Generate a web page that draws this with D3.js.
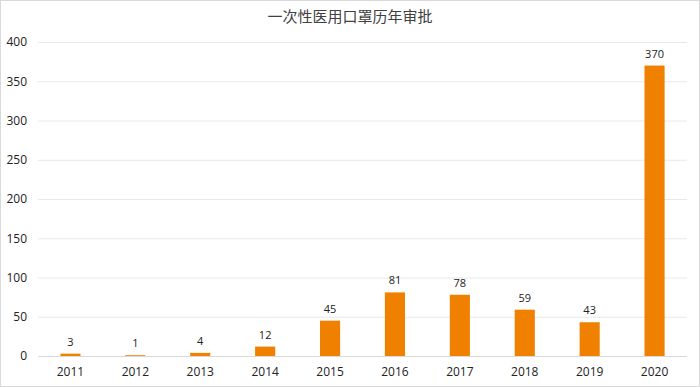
<!DOCTYPE html>
<html>
<head>
<meta charset="utf-8">
<script src="https://cdn.jsdelivr.net/npm/d3@7"></script>
<style>
  body { margin: 0; background: #fff; }
  text { font-family: "Open Sans", "Noto Sans", "Noto Sans CJK SC", sans-serif; }
</style>
</head>
<body>
<div id="c"></div>
<script>
"use strict";

const years = ["2011","2012","2013","2014","2015","2016","2017","2018","2019","2020"]
const approvals = [3, 1, 4, 12, 45, 81, 78, 59, 43, 370]
const yTicks = [0, 50, 100, 150, 200, 250, 300, 350, 400]
const title = "一次性医用口罩历年审批"

const W = 700, H = 387
const margin = { top: 42, right: 13, bottom: 31, left: 38 }
const width = W - margin.left - margin.right
const height = H - margin.top - margin.bottom

let mainSvg = d3.select('#c').append('svg')
    .attr('width', W).attr('height', H)

mainSvg.append('rect')
    .attr('x', 0.5).attr('y', 0.5)
    .attr('width', W - 1).attr('height', H - 1)
    .attr('fill', '#fff').attr('stroke', '#d9d9d9')

mainSvg.append('text')
    .attr('x', W / 2).attr('y', 22)
    .attr('text-anchor', 'middle')
    .style('font-family', '"Noto Sans CJK SC", sans-serif')
    .style('font-size', '15px')
    .attr('fill', '#404040')
    .text(title)

let svg = mainSvg.append('g')
    .attr('transform', "translate(" + margin.left + "," + margin.top + ")")

let xScale = d3.scaleBand().domain(years).range([0, width]).paddingInner(0.69).paddingOuter(0.345)
let yScale = d3.scaleLinear().domain([0, 400]).range([height, 0])

// gridlines
svg.append('g')
    .selectAll('line')
    .data(yTicks)
    .enter().append('line')
        .attr('x1', 0).attr('x2', width)
        .attr('y1', d => yScale(d) + 0.5).attr('y2', d => yScale(d) + 0.5)
        .attr('stroke', d => d === 0 ? '#d9d9d9' : '#e8e8e8')

let yAxis = svg.append('g')
    .call(d3.axisLeft(yScale).tickValues(yTicks).tickSize(0).tickPadding(11))
yAxis.select('.domain').remove()
yAxis.selectAll('text').style('font-size', '12px').attr('fill', '#222')

let xAxis = svg.append('g')
    .attr('transform', 'translate(0,' + height + ')')
    .call(d3.axisBottom(xScale).tickSize(0).tickPadding(11))
xAxis.select('.domain').remove()
xAxis.selectAll('text').style('font-size', '12px').attr('fill', '#222')

svg.append('g')
    .selectAll('rect')
    .data(approvals)
    .enter().append('rect')
        .attr('x', (d, i) => xScale(years[i]))
        .attr('y', d => yScale(d))
        .attr('width', xScale.bandwidth())
        .attr('height', d => height - yScale(d))
        .attr('fill', '#f08000')

svg.append('g')
    .selectAll('text')
    .data(approvals)
    .enter().append('text')
        .attr('x', (d, i) => xScale(years[i]) + xScale.bandwidth() / 2)
        .attr('y', d => yScale(d) - 8)
        .attr('text-anchor', 'middle')
        .style('font-size', '11px')
        .attr('fill', '#222')
        .text(d => d)
</script>
</body>
</html>
